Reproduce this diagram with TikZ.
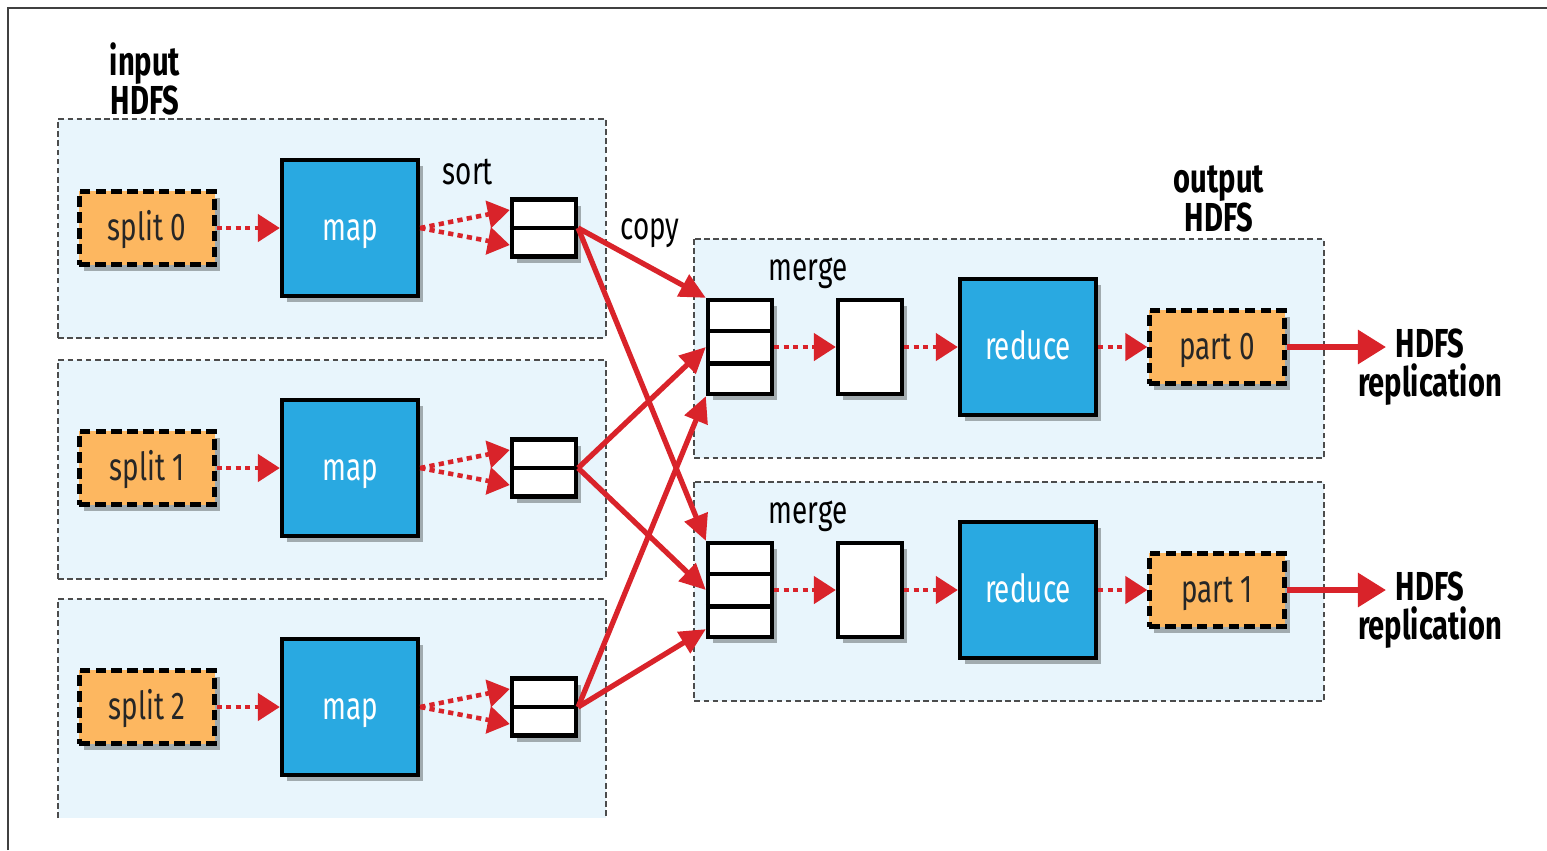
\documentclass[tikz,border=0pt]{standalone}
\usepackage{fontspec}
\setmainfont{Fira Sans}[FakeStretch=0.72]
\usetikzlibrary{arrows.meta,shadows,calc}

\definecolor{hred}{HTML}{D9232A}
\definecolor{hblue}{HTML}{29A9E1}
\definecolor{horange}{HTML}{FDB760}
\definecolor{hpale}{HTML}{E8F5FC}

\tikzset{
	groupline/.style={draw=black!70, line width=0.65pt, dash pattern=on 1.6pt off 1pt},
	boxshadow/.style={drop shadow={shadow xshift=0.05cm, shadow yshift=-0.06cm, opacity=0.3, fill=black}},
	splitbox/.style={draw, fill=horange, line width=1.2pt, dash pattern=on 3pt off 1.5pt,
		minimum width=1.35cm, minimum height=0.73cm, boxshadow, text=black!85,
		text height=0.3cm, text depth=0.06cm, font=\fontsize{11}{13}\selectfont},
	taskbox/.style={draw, fill=hblue, line width=1.2pt, minimum width=1.36cm, minimum height=1.36cm,
		boxshadow, text=white, text height=0.3cm, text depth=0.06cm, font=\fontsize{11}{13}\selectfont},
	bufbox/.style={draw, fill=white, line width=1.2pt, minimum width=0.64cm, boxshadow, inner sep=0pt},
	dotarrow/.style={hred, line width=1.3pt, dash pattern=on 1.5pt off 1.2pt, -{Triangle[length=0.22cm,width=0.27cm]}},
	copyarrow/.style={hred, line width=1.5pt, -{Triangle[length=0.26cm,width=0.24cm]}},
	outarrow/.style={hred, line width=1.7pt, -{Triangle[length=0.28cm,width=0.33cm]}},
	lbl/.style={font=\fontsize{11}{13}\selectfont},
	boldlbl/.style={font=\bfseries\fontsize{11.5}{11.2}\selectfont, align=center}
}

\begin{document}
\begin{tikzpicture}[x=0.01cm, y=-0.01cm]
	\useasboundingbox (0,0) rectangle (1547,850);
	%frame
	\draw[black!75, line width=0.8pt] (8,850) -- (8,8) -- (1547,8);
	
	%map side
	\foreach \y in {119, 360, 599}{
		\fill[hpale] (58,\y) rectangle (606,\y+219);
		\draw[groupline] (58,\y+219) -- (58,\y) -- (606,\y) -- (606,\y+219);
	}
	\draw[groupline] (58,338) -- (606,338);
	\draw[groupline] (58,579) -- (606,579);
	\node[boldlbl] (inlbl) at (145,79) {input\\HDFS};
	\node[lbl] (sortlbl) at (468,172) {sort};
	\node[lbl] (copylbl) at (650,233) {copy};
	
	\foreach \i/\y in {0/228, 1/468, 2/707}{
		\node[splitbox] (split\i) at (147,\y) {split \i};
		\node[taskbox] (map\i) at (350,\y) {map};
		\node[bufbox, minimum height=0.57cm] (sort\i) at (544,\y) {};
		\draw[line width=1.2pt] (sort\i.west) -- (sort\i.east);
		\draw[dotarrow] (split\i) -- (map\i);
		\draw[dotarrow] (map\i.east) -- ([yshift=0.18cm]sort\i.west);
		\draw[dotarrow] (map\i.east) -- ([yshift=-0.17cm]sort\i.west);
	}
	
	%reduce side
	\foreach \y in {239, 482}{
		\fill[hpale] (694,\y) rectangle (1324,\y+219);
		\draw[groupline] (694,\y) rectangle (1324,\y+219);
	}
	\node[boldlbl] (outlbl) at (1219,199) {output\\HDFS};
	
	\foreach \j/\y in {0/347, 1/590}{
		\node[lbl] (mergelbl\j) at (808,\y-74) {merge};
		\node[bufbox, minimum height=0.94cm] (merge\j) at (740,\y) {};
		\draw[line width=1.2pt] ($(merge\j.north west)!1/3!(merge\j.south west)$) -- ($(merge\j.north east)!1/3!(merge\j.south east)$);
		\draw[line width=1.2pt] ($(merge\j.north west)!2/3!(merge\j.south west)$) -- ($(merge\j.north east)!2/3!(merge\j.south east)$);
		\node[bufbox, minimum height=0.94cm] (sorted\j) at (870,\y) {};
		\node[taskbox] (reduce\j) at (1028,\y) {reduce};
		\node[splitbox] (part\j) at (1217,\y) {part \j};
		\coordinate (out\j) at (1386,\y);
		\node[boldlbl] (repl\j) at (1430,\y+20) {HDFS\\replication};
		\draw[dotarrow] (merge\j) -- (sorted\j);
		\draw[dotarrow] (sorted\j) -- (reduce\j);
		\draw[dotarrow] (reduce\j) -- (part\j);
		\draw[outarrow] (part\j) -- (out\j);
	}
	
	%copy
	\draw[copyarrow] (sort0.east) -- (merge0.north west);
	\draw[copyarrow] (sort0.east) -- (merge1.north west);
	\draw[copyarrow] (sort1.east) -- (merge0.west);
	\draw[copyarrow] (sort1.east) -- (merge1.west);
	\draw[copyarrow] (sort2.east) -- (merge0.south west);
	\draw[copyarrow] (sort2.east) -- ([yshift=0.1cm]merge1.south west);
\end{tikzpicture}
\end{document}
